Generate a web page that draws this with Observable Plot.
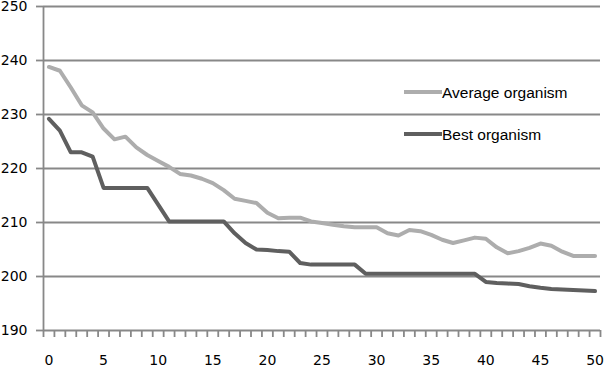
<!DOCTYPE html>
<html>
<head>
<meta charset="utf-8">
<script src="https://cdn.jsdelivr.net/npm/d3@7"></script>
<script src="https://cdn.jsdelivr.net/npm/@observablehq/plot@0.6"></script>
<style>
  html, body { margin: 0; padding: 0; background: #fff; }
  #chart { width: 604px; height: 368px; }
</style>
</head>
<body>
<div id="chart"></div>
<script>
const generations = d3.range(0, 51);
const averageOrganism = [
  238.8, 238.1, 235.0, 231.7, 230.4, 227.4, 225.4, 225.9, 223.9, 222.5,
  221.4, 220.3, 219.0, 218.7, 218.1, 217.3, 216.0, 214.4, 214.0, 213.6,
  211.8, 210.8, 210.9, 210.9, 210.2, 209.9, 209.6, 209.3, 209.1, 209.1,
  209.1, 208.0, 207.6, 208.6, 208.4, 207.7, 206.8, 206.2, 206.7, 207.2,
  207.0, 205.4, 204.3, 204.7, 205.3, 206.1, 205.7, 204.6, 203.8, 203.8, 203.8
];
const bestOrganism = [
  229.2, 227.0, 223.0, 223.0, 222.2, 216.4, 216.4, 216.4, 216.4, 216.4,
  213.3, 210.2, 210.2, 210.2, 210.2, 210.2, 210.2, 208.0, 206.2, 205.0,
  204.9, 204.7, 204.6, 202.5, 202.2, 202.2, 202.2, 202.2, 202.2, 200.5,
  200.5, 200.5, 200.5, 200.5, 200.5, 200.5, 200.5, 200.5, 200.5, 200.5,
  199.0, 198.8, 198.7, 198.6, 198.2, 197.9, 197.7, 197.6, 197.5, 197.4, 197.3
];
const yTicks = [190, 200, 210, 220, 230, 240, 250];
const xTickLabels = [0, 5, 10, 15, 20, 25, 30, 35, 40, 45, 50];
const seriesNames = ["Average organism", "Best organism"];
const seriesColors = ["#adadad", "#5f5f5f"];

const avgRows = generations.map((g, i) => ({g, v: averageOrganism[i]}));
const bestRows = generations.map((g, i) => ({g, v: bestOrganism[i]}));
const gridColor = "#888888";

const plot = Plot.plot({
  width: 604,
  height: 368,
  marginLeft: 43,
  marginRight: 4,
  marginTop: 6,
  marginBottom: 38,
  x: {domain: [-0.5, generations.length - 0.5]},
  y: {domain: [190, 250]},
  style: {fontFamily: "DejaVu Sans", fontSize: "14px", background: "#fff", color: "#000", overflow: "visible"},
  marks: [
    Plot.ruleY(yTicks, {stroke: gridColor, strokeWidth: 1.8}),
    Plot.ruleX([-0.5], {stroke: gridColor, strokeWidth: 1.8}),
    Plot.axisY({ticks: yTicks, tickSize: 7, tickPadding: 9, stroke: gridColor, strokeWidth: 1.8, label: null, tickFormat: d => String(d)}),
    Plot.axisX({ticks: d3.range(-0.5, generations.length, 1), tickSize: 7, tickFormat: () => "", stroke: gridColor, strokeWidth: 1.8, label: null}),
    Plot.axisX({ticks: xTickLabels, tickSize: 0, tickPadding: 25, label: null, tickFormat: d => String(d)}),
    Plot.line(avgRows, {x: "g", y: "v", stroke: seriesColors[0], strokeWidth: 4, strokeLinejoin: "round"}),
    Plot.line(bestRows, {x: "g", y: "v", stroke: seriesColors[1], strokeWidth: 4, strokeLinejoin: "round"})
  ]
});

// Legend inside the plot area
const svg = d3.select(plot);
const legend = svg.append("g")
  .attr("font-family", "Liberation Sans, Arial, sans-serif")
  .attr("font-size", "15.5px")
  .attr("text-anchor", "start");
[92, 134].forEach((yy, i) => {
  legend.append("line").attr("x1", 404).attr("x2", 442).attr("y1", yy).attr("y2", yy)
    .attr("stroke", seriesColors[i]).attr("stroke-width", 4);
  legend.append("text").attr("x", 442).attr("y", yy + 5.5).attr("fill", "#000")
    .attr("text-anchor", "start").text(seriesNames[i]);
});

document.getElementById("chart").appendChild(plot);
</script>
</body>
</html>
